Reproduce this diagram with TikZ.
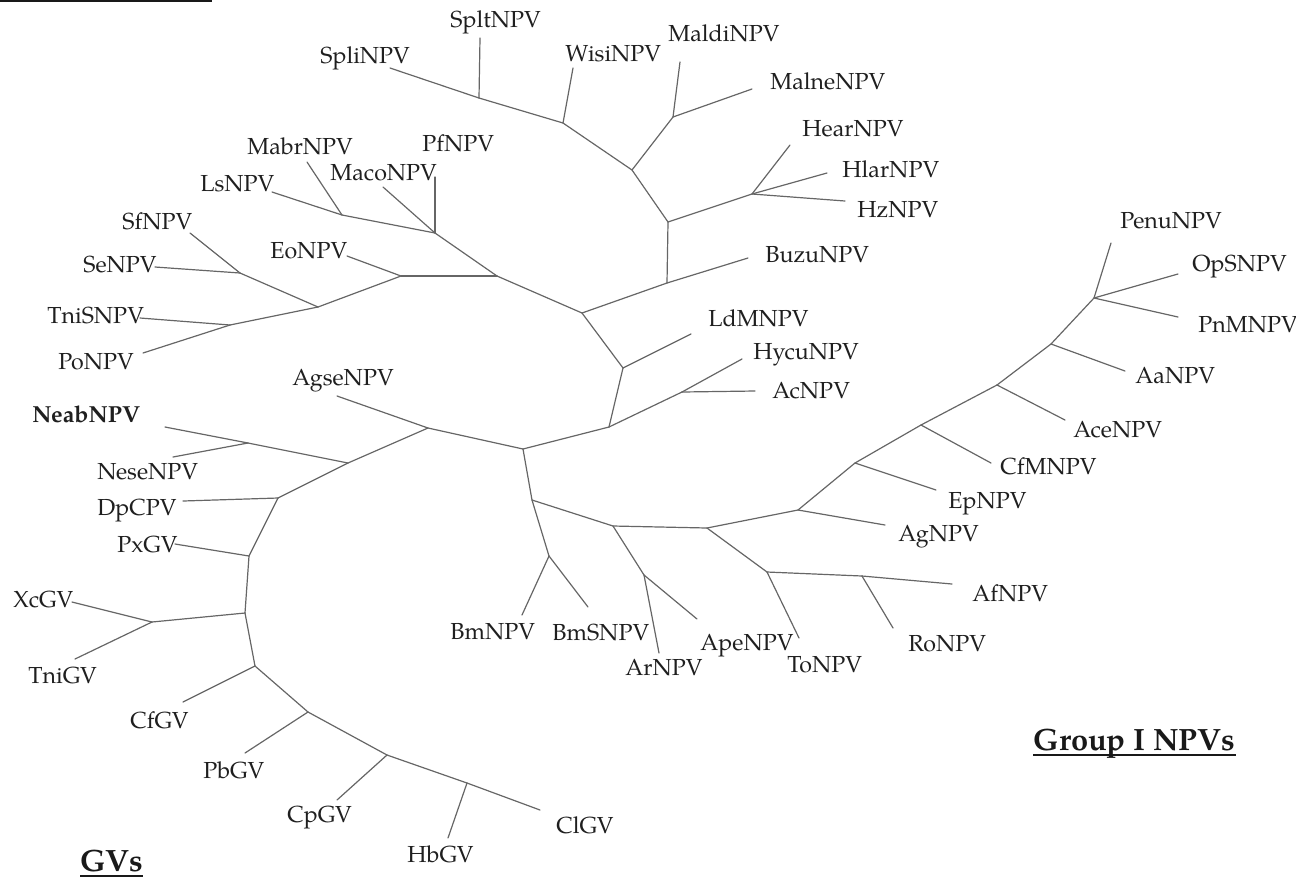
\documentclass[tikz,border=0pt]{standalone}
\usepackage{fontspec}
\setmainfont{texgyrepagella}[Extension=.otf,UprightFont=*-regular,BoldFont=*-bold,ItalicFont=*-italic,BoldItalicFont=*-bolditalic]
\begin{document}
\begin{tikzpicture}[x=0.5pt,y=-0.5pt,
  lbl/.style={anchor=base west,inner sep=0pt,font=\fontsize{11.6}{14}\selectfont,text=black!88},
  blbl/.style={lbl,font=\fontsize{11.6}{14}\selectfont\bfseries},
  grp/.style={anchor=base west,inner sep=0pt,font=\fontsize{15.4}{19}\selectfont\bfseries,text=black!90},
  br/.style={draw=black!60,line width=0.6pt,line cap=round},
  uline/.style={draw=black!90,line width=1pt}]
\useasboundingbox (0,0) rectangle (1296,880);
% internal nodes
\foreach \n/\p in {n1/{479,98},n2/{563,123},G/{632,170},MM/{673,117},H/{668,222},HH3/{752,194},
  I/{667,283},J/{582,313},L/{497,276},K/{435,233},LM/{342,215},EoN/{401,276},A/{318,307},
  SS/{240,273},TP/{230,325},N/{623,368},O/{682,392},P/{609,427},Q/{523,449},B/{428,428},
  C/{348,463},NN/{248,443},D/{278,498},E/{249,556},F/{245,613},XT/{152,622},GG/{255,666},
  HHg/{308,712},IIg/{387,755},JJ/{467,783},R/{532,500},S/{549,556},T/{613,526},U/{644,575},
  V/{707,528},X/{767,572},Y/{862,576},W/{798,510},Z/{855,463},AA/{921,425},DD/{997,385},
  CC/{1051,344},BB/{1094,298}}
  {\coordinate (\n) at (\p);}
% leaf ends
\foreach \n/\p in {eSpli/{390,68},eSplt/{480,38},eWisi/{573,68},eMaldi/{680,62},eMalne/{752,89},
  eHear/{790,145},eHlar/{827,173},eHz/{845,201},eBuzu/{748,258},ePf/{435,177},eMaco/{383,187},
  eLs/{272,192},eMabr/{307,162},eEo/{347,256},eSf/{190,233},eSe/{155,267},eTniS/{140,318},
  ePo/{143,353},eLdM/{691,334},eHycu/{742,359},eAc/{755,391},eAgse/{337,396},eNeab/{165,427},
  eNese/{173,457},eDpC/{183,501},ePx/{175,544},eXc/{72,602},eTniG/{75,659},eCfG/{183,702},
  ePb/{245,753},eCp/{337,800},eHb/{448,838},eCl/{540,810},eBm/{522,615},eBmS/{588,607},
  eAr/{659,653},eApe/{697,619},eTo/{799,638},eAf/{952,584},eRo/{893,628},eAg/{885,525},
  eEp/{936,490},eCfM/{991,463},eAce/{1065,420},eAa/{1125,371},ePenu/{1111,243},
  eOpS/{1178,274},ePnM/{1178,317}}
  {\coordinate (\n) at (\p);}
% internal edges
\foreach \a/\b in {Q/P,P/N,N/J,J/L,L/K,K/LM,L/EoN,EoN/A,A/SS,A/TP,J/I,I/H,H/G,G/n2,n2/n1,G/MM,
  H/HH3,P/O,Q/B,B/C,C/NN,C/D,D/E,E/F,F/XT,F/GG,GG/HHg,HHg/IIg,IIg/JJ,Q/R,R/S,R/T,T/U,T/V,
  V/X,X/Y,V/W,W/Z,Z/AA,AA/DD,DD/CC,CC/BB}
  {\draw[br] (\a) -- (\b);}
% leaf edges
\foreach \a/\b in {eSpli/n1,eSplt/n1,eWisi/n2,eMaldi/MM,eMalne/MM,eHear/HH3,eHlar/HH3,eHz/HH3,
  eBuzu/I,ePf/K,eMaco/K,eLs/LM,eMabr/LM,eEo/EoN,eSf/SS,eSe/SS,eTniS/TP,ePo/TP,eLdM/N,eHycu/O,
  eAc/O,eAgse/B,eNeab/NN,eNese/NN,eDpC/D,ePx/E,eXc/XT,eTniG/XT,eCfG/GG,ePb/HHg,eCp/IIg,
  eHb/JJ,eCl/JJ,eBm/S,eBmS/S,eAr/U,eApe/U,eTo/X,eAf/Y,eRo/Y,eAg/W,eEp/Z,eCfM/AA,eAce/DD,
  eAa/CC,ePenu/BB,eOpS/BB,ePnM/BB}
  {\draw[br] (\a) -- (\b);}
% labels
\node[lbl] (Spli) at (320,63) {SpliNPV};
\node[lbl] (Splt) at (450,27) {SpltNPV};
\node[lbl] (Wisi) at (565,61) {WisiNPV};
\node[lbl] (Maldi) at (668,41) {MaldiNPV};
\node[lbl] (Malne) at (770,89) {MalneNPV};
\node[lbl] (Hear) at (802,136) {HearNPV};
\node[lbl] (Hlar) at (842,177) {HlarNPV};
\node[lbl] (Hz) at (857,217) {HzNPV};
\node[lbl] (Buzu) at (765,262) {BuzuNPV};
\node[lbl] (Pf) at (422,151) {PfNPV};
\node[lbl] (Maco) at (330,180) {MacoNPV};
\node[lbl] (Mabr) at (247,154) {MabrNPV};
\node[lbl] (Ls) at (200,191) {LsNPV};
\node[lbl] (Sf) at (122,229) {SfNPV};
\node[lbl] (Se) at (83,272) {SeNPV};
\node[lbl] (Eo) at (270,258) {EoNPV};
\node[lbl] (TniS) at (47,323) {TniSNPV};
\node[lbl] (Po) at (58,369) {PoNPV};
\node[lbl] (Agse) at (292,385) {AgseNPV};
\node[blbl] (Neab) at (32,422) {NeabNPV};
\node[lbl] (Nese) at (97,479) {NeseNPV};
\node[lbl] (DpC) at (97,515) {DpCPV};
\node[lbl] (Px) at (117,552) {PxGV};
\node[lbl] (Xc) at (13,607) {XcGV};
\node[lbl] (TniG) at (28,683) {TniGV};
\node[lbl] (CfG) at (130,728) {CfGV};
\node[lbl] (Pb) at (203,778) {PbGV};
\node[lbl] (Cp) at (287,822) {CpGV};
\node[lbl] (Hb) at (407,862) {HbGV};
\node[lbl] (Cl) at (556,833) {ClGV};
\node[lbl] (Bm) at (450,639) {BmNPV};
\node[lbl] (BmS) at (552,640) {BmSNPV};
\node[lbl] (Ar) at (625,675) {ArNPV};
\node[lbl] (Ape) at (700,650) {ApeNPV};
\node[lbl] (To) at (787,672) {ToNPV};
\node[lbl] (Ro) at (908,651) {RoNPV};
\node[lbl] (Af) at (972,601) {AfNPV};
\node[lbl] (Ag) at (898,541) {AgNPV};
\node[lbl] (Ep) at (948,508) {EpNPV};
\node[lbl] (CfM) at (1000,474) {CfMNPV};
\node[lbl] (Ace) at (1073,437) {AceNPV};
\node[lbl] (Aa) at (1135,383) {AaNPV};
\node[lbl] (PnM) at (1198,332) {PnMNPV};
\node[lbl] (OpS) at (1192,271) {OpSNPV};
\node[lbl] (Penu) at (1120,228) {PenuNPV};
\node[lbl] (LdM) at (708,326) {LdMNPV};
\node[lbl] (Hycu) at (753,359) {HycuNPV};
\node[lbl] (Ac) at (772,398) {AcNPV};
% group labels
\node[grp] (grpI) at (1033,750) {Group I NPVs};
\node[grp] (gv) at (80,871) {GVs};
\draw[uline] ([yshift=-2.5pt]grpI.base west) -- ([yshift=-2.5pt]grpI.base east);
\draw[uline] ([yshift=-2.5pt]gv.base west) -- ([yshift=-2.5pt]gv.base east);
% cut-off underline of the top-left group label
\coordinate (tl1) at (0,1);
\coordinate (tl2) at (212,1);
\draw[uline] (tl1) -- (tl2);
\end{tikzpicture}
\end{document}
